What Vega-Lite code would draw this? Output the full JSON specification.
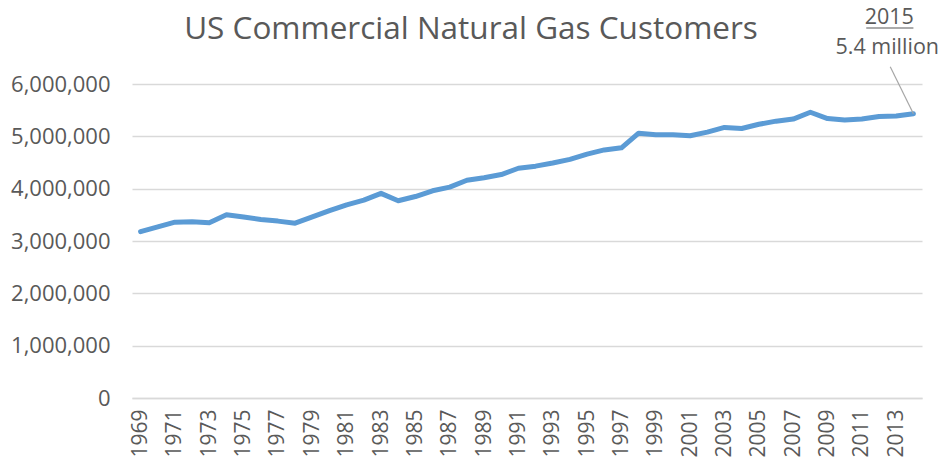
{
  "$schema": "https://vega.github.io/schema/vega-lite/v6.json",
  "autosize": {"type": "none"},
  "width": 790,
  "height": 314,
  "padding": {"left": 132, "top": 84, "right": 20, "bottom": 63},
  "background": "white",
  "title": {
    "text": "US Commercial Natural Gas Customers",
    "font": "Open Sans",
    "fontSize": 31.5,
    "fontWeight": "normal",
    "color": "#595959",
    "anchor": "middle",
    "dx": -56,
    "offset": -38
  },
  "config": {
    "view": {"stroke": null},
    "axis": {"labelFont": "Open Sans", "labelColor": "#595959", "gridColor": "#d9d9d9", "gridWidth": 1.5, "domainColor": "#d9d9d9", "domainWidth": 1.5}
  },
  "data": {
    "values": [
      {"year": 1969, "customers": 3180000},
      {"year": 1970, "customers": 3270000},
      {"year": 1971, "customers": 3360000},
      {"year": 1972, "customers": 3370000},
      {"year": 1973, "customers": 3350000},
      {"year": 1974, "customers": 3500000},
      {"year": 1975, "customers": 3460000},
      {"year": 1976, "customers": 3410000},
      {"year": 1977, "customers": 3380000},
      {"year": 1978, "customers": 3340000},
      {"year": 1979, "customers": 3460000},
      {"year": 1980, "customers": 3580000},
      {"year": 1981, "customers": 3690000},
      {"year": 1982, "customers": 3780000},
      {"year": 1983, "customers": 3910000},
      {"year": 1984, "customers": 3770000},
      {"year": 1985, "customers": 3850000},
      {"year": 1986, "customers": 3960000},
      {"year": 1987, "customers": 4030000},
      {"year": 1988, "customers": 4160000},
      {"year": 1989, "customers": 4210000},
      {"year": 1990, "customers": 4270000},
      {"year": 1991, "customers": 4390000},
      {"year": 1992, "customers": 4430000},
      {"year": 1993, "customers": 4490000},
      {"year": 1994, "customers": 4560000},
      {"year": 1995, "customers": 4660000},
      {"year": 1996, "customers": 4740000},
      {"year": 1997, "customers": 4780000},
      {"year": 1998, "customers": 5060000},
      {"year": 1999, "customers": 5030000},
      {"year": 2000, "customers": 5030000},
      {"year": 2001, "customers": 5010000},
      {"year": 2002, "customers": 5080000},
      {"year": 2003, "customers": 5170000},
      {"year": 2004, "customers": 5150000},
      {"year": 2005, "customers": 5230000},
      {"year": 2006, "customers": 5290000},
      {"year": 2007, "customers": 5330000},
      {"year": 2008, "customers": 5460000},
      {"year": 2009, "customers": 5340000},
      {"year": 2010, "customers": 5310000},
      {"year": 2011, "customers": 5330000},
      {"year": 2012, "customers": 5380000},
      {"year": 2013, "customers": 5390000},
      {"year": 2014, "customers": 5430000}
    ]
  },
  "encoding": {
    "x": {
      "field": "year",
      "type": "ordinal",
      "scale": {"type": "point", "padding": 0.5},
      "axis": {
        "title": null,
        "values": [1969,1971,1973,1975,1977,1979,1981,1983,1985,1987,1989,1991,1993,1995,1997,1999,2001,2003,2005,2007,2009,2011,2013],
        "labelAngle": 270,
        "labelFontSize": 21,
        "labelPadding": 11,
        "ticks": false,
        "grid": false,
        "domain": true
      }
    },
    "y": {
      "field": "customers",
      "type": "quantitative",
      "scale": {"domain": [0, 6000000]},
      "axis": {
        "title": null,
        "values": [0,1000000,2000000,3000000,4000000,5000000,6000000],
        "format": ",d",
        "labelFontSize": 22,
        "labelPadding": 22,
        "ticks": false,
        "domain": false,
        "grid": true
      }
    }
  },
  "layer": [
    {
      "mark": {"type": "line", "color": "#5b9bd5", "strokeWidth": 5, "strokeCap": "round", "strokeJoin": "round"}
    },
    {
      "transform": [{"filter": "datum.year === 2014"}],
      "mark": {"type": "rule", "color": "#a6a6a6", "strokeWidth": 1.2, "xOffset": -6},
      "encoding": {
        "x": {"datum": 2013},
        "y": {"datum": 6330000},
        "x2": {"datum": 2014},
        "y2": {"datum": 5430000}
      }
    },
    {
      "transform": [{"filter": "datum.year === 2014"}],
      "mark": {"type": "text", "font": "Open Sans", "fontSize": 21.5, "fontWeight": "normal", "color": "#595959", "dx": -9, "baseline": "alphabetic", "align": "center"},
      "encoding": {
        "x": {"datum": 2013},
        "y": {"datum": 6570000},
        "text": {"value": "5.4 million"}
      }
    },
    {
      "transform": [{"filter": "datum.year === 2014"}],
      "mark": {"type": "text", "font": "Open Sans", "fontSize": 21.5, "fontWeight": "normal", "color": "#595959", "dx": -7, "baseline": "alphabetic", "align": "center"},
      "encoding": {
        "x": {"datum": 2013},
        "y": {"datum": 7140000},
        "text": {"value": "2015"}
      }
    },
    {
      "transform": [{"filter": "datum.year === 2014"}],
      "mark": {"type": "rule", "color": "#595959", "strokeWidth": 1.2, "xOffset": -30, "x2Offset": 0},
      "encoding": {
        "x": {"datum": 2013},
        "x2": {"datum": 2014},
        "y": {"datum": 7070000}
      }
    }
  ]
}
